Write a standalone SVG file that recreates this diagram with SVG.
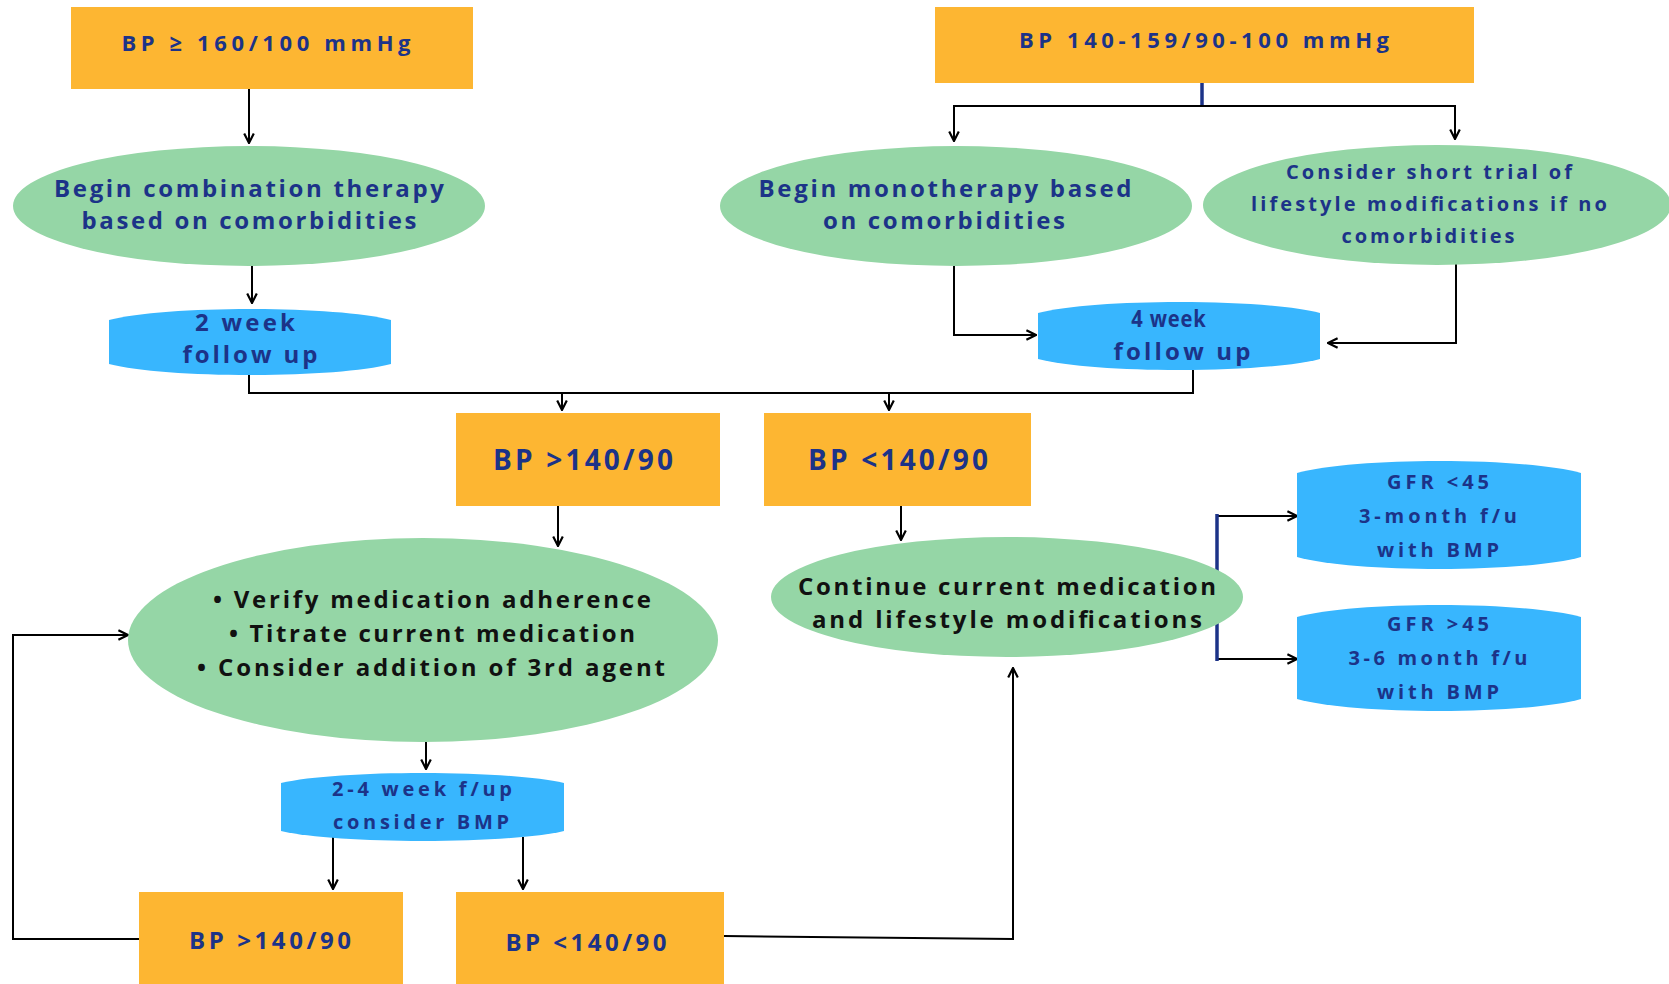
<svg xmlns="http://www.w3.org/2000/svg" width="1669" height="984" viewBox="0 0 1669 984">
<defs>
<marker id="arr" viewBox="0 0 10 10" refX="9" refY="5" markerWidth="12" markerHeight="12" markerUnits="userSpaceOnUse" orient="auto">
<path d="M1,1 L9,5 L1,9" fill="none" stroke="#000" stroke-width="1.8"/>
</marker>
<style>
.box{fill:#FDB632}
.ell{fill:#95D6A6}
.hex{fill:#38B6FE}
text{font-family:"Open Sans","Liberation Sans",sans-serif;font-weight:bold;text-anchor:middle;fill:#1C3388}
.blk{fill:#111}
.ln{fill:none;stroke:#000;stroke-width:2}
.bl{fill:none;stroke:#1C3388;stroke-width:3.5}
</style>
</defs>
<rect width="1669" height="984" fill="#fff"/>

<g id="connectors">
<path class="ln" d="M249,89 L249,143" marker-end="url(#arr)"/>
<path class="ln" d="M252,266 L252,303" marker-end="url(#arr)"/>
<path class="bl" d="M1202,83 L1202,106"/>
<path class="ln" d="M954,141 L954,106 L1455,106 L1455,139" marker-end="url(#arr)"/>
<path class="ln" d="M954,106 L954,141" marker-end="url(#arr)"/>
<path class="ln" d="M954,266 L954,335 L1036,335" marker-end="url(#arr)"/>
<path class="ln" d="M1456,264 L1456,343 L1328,343" marker-end="url(#arr)"/>
<path class="ln" d="M249,375 L249,393 L1193,393 L1193,370"/>
<path class="ln" d="M562,393 L562,410" marker-end="url(#arr)"/>
<path class="ln" d="M889,393 L889,410" marker-end="url(#arr)"/>
<path class="ln" d="M558,506 L558,546" marker-end="url(#arr)"/>
<path class="ln" d="M901,506 L901,540" marker-end="url(#arr)"/>
<path class="ln" d="M1217,516 L1297,516" marker-end="url(#arr)"/>
<path class="ln" d="M1217,659 L1297,659" marker-end="url(#arr)"/>
<path class="bl" d="M1217,514 L1217,661"/>
<path class="ln" d="M426,742 L426,769" marker-end="url(#arr)"/>
<path class="ln" d="M333,837 L333,889" marker-end="url(#arr)"/>
<path class="ln" d="M523,837 L523,889" marker-end="url(#arr)"/>
<path class="ln" d="M139,939 L13,939 L13,635 L128,635" marker-end="url(#arr)"/>
<path class="ln" d="M724,936 L1013,939 L1013,668" marker-end="url(#arr)"/>
</g>

<g id="bp160">
<rect class="box" x="71" y="7" width="402" height="82"/>
<text x="266" y="51" font-size="22" textLength="289">BP ≥ 160/100 mmHg</text>
</g>
<g id="bp140159">
<rect class="box" x="935" y="7" width="539" height="76"/>
<text x="1204" y="48" font-size="22" textLength="370">BP 140-159/90-100 mmHg</text>
</g>
<g id="combo">
<ellipse class="ell" cx="249" cy="206" rx="236" ry="60"/>
<text x="249" y="197" font-size="24" textLength="390">Begin combination therapy</text>
<text x="249" y="229" font-size="24" textLength="335">based on comorbidities</text>
</g>
<g id="mono">
<ellipse class="ell" cx="956" cy="206" rx="236" ry="60"/>
<text x="945" y="197" font-size="24" textLength="373">Begin monotherapy based</text>
<text x="944" y="229" font-size="24" textLength="242">on comorbidities</text>
</g>
<g id="lifestyle">
<ellipse class="ell" cx="1437" cy="205" rx="234" ry="60"/>
<text x="1429" y="179" font-size="20" textLength="286">Consider short trial of</text>
<text x="1429" y="211" font-size="20" textLength="356">lifestyle modifications  if no</text>
<text x="1428" y="243" font-size="20" textLength="173">comorbidities</text>
</g>
<g id="fu2">
<path class="hex" d="M109,320 C165,305.3 335,305.3 391,320 L391,364 C335,378.7 165,378.7 109,364 Z"/>
<text x="245" y="331" font-size="24" textLength="100">2 week</text>
<text x="250" y="363" font-size="24" textLength="135">follow up</text>
</g>
<g id="fu4">
<path class="hex" d="M1038,313 C1094,298.3 1264,298.3 1320,313 L1320,359 C1264,373.7 1094,373.7 1038,359 Z"/>
<text transform="translate(1169 327) scale(0.84 1)" x="0" y="0" font-size="24" letter-spacing="1">4 week</text>
<text x="1182" y="360" font-size="24" textLength="137">follow up</text>
</g>
<g id="bpHigh1">
<rect class="box" x="456" y="413" width="264" height="93"/>
<text x="583" y="470" font-size="28" textLength="180">BP &gt;140/90</text>
</g>
<g id="bpLow1">
<rect class="box" x="764" y="413" width="267" height="93"/>
<text x="898" y="470" font-size="28" textLength="180">BP &lt;140/90</text>
</g>
<g id="verify">
<ellipse class="ell" cx="423" cy="640" rx="295" ry="102"/>
<text class="blk" x="432" y="608" font-size="24" textLength="438">• Verify medication adherence</text>
<text class="blk" x="432" y="642" font-size="24" textLength="406">• Titrate current medication</text>
<text class="blk" x="431" y="676" font-size="24" textLength="468">• Consider addition of 3rd agent</text>
</g>
<g id="continue">
<ellipse class="ell" cx="1007" cy="597" rx="236" ry="60"/>
<text class="blk" x="1007" y="595" font-size="24" textLength="418">Continue current medication</text>
<text class="blk" x="1007" y="628" font-size="24" textLength="390">and lifestyle modifications</text>
</g>
<g id="gfrLow">
<path class="hex" d="M1297,473 C1354,457 1524,457 1581,473 L1581,557 C1524,573 1354,573 1297,557 Z"/>
<text x="1438" y="489" font-size="20" textLength="102">GFR &lt;45</text>
<text x="1438" y="523" font-size="20" textLength="158">3-month f/u</text>
<text x="1438" y="557" font-size="20" textLength="122">with BMP</text>
</g>
<g id="gfrHigh">
<path class="hex" d="M1297,617 C1354,601 1524,601 1581,617 L1581,699 C1524,715 1354,715 1297,699 Z"/>
<text x="1438" y="631" font-size="20" textLength="102">GFR &gt;45</text>
<text x="1438" y="665" font-size="20" textLength="179">3-6 month f/u</text>
<text x="1438" y="699" font-size="20" textLength="122">with BMP</text>
</g>
<g id="fu24">
<path class="hex" d="M281,783 C338,769.7 507,769.7 564,783 L564,831 C507,844.3 338,844.3 281,831 Z"/>
<text x="422" y="796" font-size="20" textLength="180">2-4 week f/up</text>
<text x="421" y="829" font-size="20" textLength="176">consider BMP</text>
</g>
<g id="bpHigh2">
<rect class="box" x="139" y="892" width="264" height="92"/>
<text x="270" y="949" font-size="24" textLength="162">BP &gt;140/90</text>
</g>
<g id="bpLow2">
<rect class="box" x="456" y="892" width="268" height="92"/>
<text x="586" y="951" font-size="24" textLength="161">BP &lt;140/90</text>
</g>
</svg>
